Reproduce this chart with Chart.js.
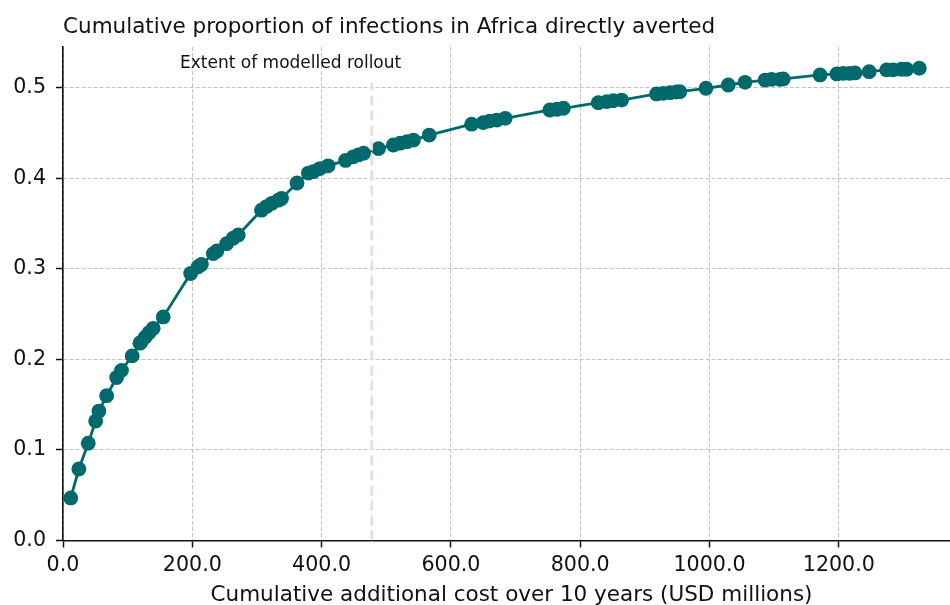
<!DOCTYPE html>
<html>
<head>
<meta charset="utf-8">
<script src="https://cdn.jsdelivr.net/npm/chart.js@4/dist/chart.umd.min.js"></script>
<style>
  html, body { margin: 0; padding: 0; background: #ffffff; }
  #wrap { width: 950px; height: 605px; }
</style>
</head>
<body>
<div id="wrap"><canvas id="c" width="950" height="605"></canvas></div>
<script>
// Cumulative additional cost (USD millions) for each step of the rollout
const costs = [
  12, 24.5, 39, 50.5, 55.5, 67.5, 83, 90.5, 107, 119, 120.5, 127, 133, 139.5, 155,
  197.5, 209, 214, 232.5, 238, 253, 263, 271,
  307, 315, 323, 333, 338, 362, 379.5, 387, 397.5, 410,
  437, 449, 457, 465, 488, 511, 521.5, 532, 542, 566.5,
  632, 650, 660, 671, 684, 753, 764, 774,
  828, 841, 851, 864, 918, 928, 939, 949, 954,
  994.5, 1029, 1055, 1086, 1096, 1109, 1114,
  1171, 1197, 1207, 1217, 1225, 1247, 1274, 1284, 1297, 1305, 1324.5
];
// Cumulative proportion of infections directly averted at each step
const averted = [
  0.047, 0.079, 0.1075, 0.132, 0.143, 0.160, 0.180, 0.188, 0.204, 0.218, 0.219, 0.2245, 0.2296, 0.2345, 0.247,
  0.295, 0.3025, 0.305, 0.317, 0.320, 0.328, 0.334, 0.3376,
  0.365, 0.369, 0.3726, 0.376, 0.378, 0.395, 0.406, 0.4075, 0.411, 0.414,
  0.420, 0.424, 0.426, 0.428, 0.433, 0.437, 0.439, 0.4407, 0.4425, 0.448,
  0.460, 0.4617, 0.4635, 0.4646, 0.4665, 0.4757, 0.4765, 0.4776,
  0.4838, 0.4849, 0.486, 0.4867, 0.4934, 0.4941, 0.4948, 0.4956, 0.4959,
  0.4997, 0.5033, 0.5063, 0.5088, 0.5096, 0.5096, 0.510,
  0.5144, 0.5155, 0.5162, 0.5162, 0.5166, 0.518, 0.520, 0.520, 0.5207, 0.5207, 0.5218
];
// Tick values on each axis
const xTicks = [0, 200, 400, 600, 800, 1000, 1200];
const yTicks = [0, 0.1, 0.2, 0.3, 0.4, 0.5];
// Cost at which the modelled rollout ends
const rolloutExtent = 477.5;
const rolloutLineTop = 0.506;

const titleText = 'Cumulative proportion of infections in Africa directly averted';
const xAxisTitle = 'Cumulative additional cost over 10 years (USD millions)';
const rolloutLabel = 'Extent of modelled rollout';

const FONT = '"DejaVu Sans", sans-serif';
const TEAL = '#00696b';

const points = costs.map((c, i) => ({ x: c, y: averted[i] }));

// Draws the title, the x-axis title and the rollout label
const textPlugin = {
  id: 'texts',
  afterDraw(chart) {
    const ctx = chart.ctx;
    const xs = chart.scales.x, ys = chart.scales.y;
    ctx.save();
    ctx.fillStyle = '#111111';
    ctx.textBaseline = 'alphabetic';

    ctx.font = '21.5px ' + FONT;
    ctx.textAlign = 'left';
    ctx.fillText(titleText, chart.chartArea.left, 32.5);

    ctx.font = '21.5px ' + FONT;
    ctx.textAlign = 'center';
    ctx.fillText(xAxisTitle, 511.5, 601);

    ctx.font = '17px ' + FONT;
    ctx.textAlign = 'left';
    ctx.fillText(rolloutLabel, xs.getPixelForValue(181), ys.getPixelForValue(0.5295) + 7);
    ctx.restore();
  }
};

const gridStyle = {
  color: '#c2c2c2',
  lineWidth: 1,
  tickLength: 7,
  tickColor: '#111111',
  tickWidth: 1.5
};
const borderStyle = { display: true, color: '#111111', width: 1.6, dash: [4, 2] };

new Chart(document.getElementById('c'), {
  type: 'line',
  data: {
    datasets: [
      {
        data: [{ x: rolloutExtent, y: 0 }, { x: rolloutExtent, y: rolloutLineTop }],
        borderColor: '#ebdbdf',
        borderWidth: 2.6,
        borderDash: [10, 5],
        pointRadius: 0,
        order: 0
      },
      {
        data: points,
        borderColor: TEAL,
        borderWidth: 2.8,
        pointRadius: 7.4,
        pointBackgroundColor: TEAL,
        pointBorderWidth: 0,
        tension: 0,
        order: 1
      }
    ]
  },
  options: {
    responsive: false,
    devicePixelRatio: 1,
    animation: false,
    layout: { autoPadding: false, padding: { top: 47, right: 0, left: 0, bottom: 0 } },
    plugins: {
      legend: { display: false },
      tooltip: { enabled: false },
      title: { display: false }
    },
    scales: {
      x: {
        type: 'linear',
        min: 0,
        max: 1372,
        afterBuildTicks: (s) => { s.ticks = xTicks.map(v => ({ value: v })); },
        afterFit: (s) => { s.height = 64.5; s.paddingRight = 0; s.paddingLeft = 0; },
        ticks: {
          color: '#111111',
          font: { family: FONT, size: 20.6 },
          padding: 6,
          maxRotation: 0,
          callback: (v) => Number(v).toFixed(1)
        },
        grid: gridStyle,
        border: borderStyle
      },
      y: {
        type: 'linear',
        min: 0,
        max: 0.5453,
        afterBuildTicks: (s) => { s.ticks = yTicks.map(v => ({ value: v })); },
        afterFit: (s) => { s.width = 63; s.paddingTop = 0; s.paddingBottom = 0; },
        ticks: {
          color: '#111111',
          font: { family: FONT, size: 20.6 },
          padding: 10,
          callback: (v) => Number(v).toFixed(1)
        },
        grid: gridStyle,
        border: borderStyle
      }
    }
  },
  plugins: [textPlugin]
});
</script>
</body>
</html>
